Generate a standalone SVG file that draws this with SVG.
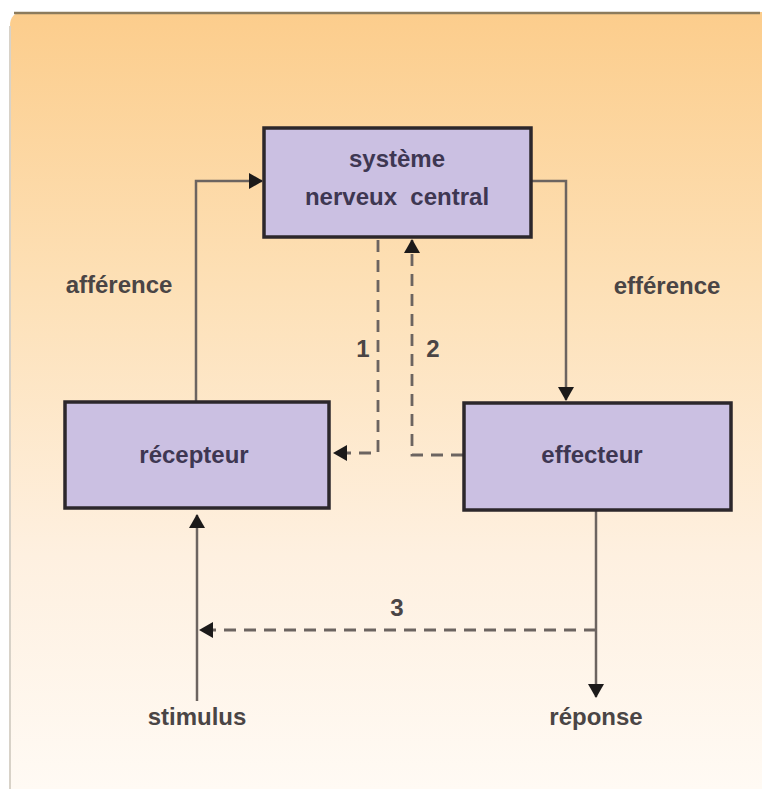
<svg xmlns="http://www.w3.org/2000/svg" width="765" height="789" viewBox="0 0 765 789">
<defs>
<linearGradient id="bg" x1="0" y1="0" x2="0" y2="1">
<stop offset="0" stop-color="#fccd8c"/>
<stop offset="0.35" stop-color="#fde0b6"/>
<stop offset="0.7" stop-color="#fef0e0"/>
<stop offset="1" stop-color="#fffaf4"/>
</linearGradient>
<marker id="ah" viewBox="0 0 14 16" refX="13" refY="8" markerWidth="14" markerHeight="16" markerUnits="userSpaceOnUse" orient="auto">
<path d="M0,0 L14,8 L0,16 z" fill="#1c1a1a"/>
</marker>
<style>
.box{fill:#cbc0e2;stroke:#2c272b;stroke-width:3.5}
.bt{font-family:"Liberation Sans",Arial,sans-serif;font-size:24px;font-weight:bold;fill:#3e3752;text-anchor:middle}
.lb{font-family:"Liberation Sans",Arial,sans-serif;font-size:24px;font-weight:bold;fill:#4a4545;text-anchor:middle}
.ln{fill:none;stroke:#6c6460;stroke-width:2.5}
.dl{fill:none;stroke:#6c6460;stroke-width:2.8;stroke-dasharray:12 8}
</style>
</defs>
<rect width="765" height="789" fill="#ffffff"/>
<path d="M10,789 L10,26 Q10,12 24,12 L762,12 L762,789 z" fill="url(#bg)"/>
<path d="M10,789 L10,26" stroke="#d8d2c8" stroke-width="2" fill="none"/>
<path d="M14,13 L760,13" stroke="#8c7b5c" stroke-width="2.5" fill="none"/>
<g id="connectors">
<path class="ln" d="M196,401 L196,181 L262,181" marker-end="url(#ah)"/>
<path class="ln" d="M531,181 L566,181 L566,400" marker-end="url(#ah)"/>
<path class="dl" d="M378,240 L378,453 L334,453" marker-end="url(#ah)"/>
<path class="dl" d="M463,455 L412,455 L412,240" marker-end="url(#ah)"/>
<path class="ln" d="M197,701 L197,515" marker-end="url(#ah)"/>
<path class="ln" d="M596,510 L596,697" marker-end="url(#ah)"/>
<path class="dl" d="M596,630 L200,630" marker-end="url(#ah)"/>
</g>
<g id="snc">
<rect class="box" x="264" y="128" width="267" height="109"/>
<text class="bt" x="397" y="167">système</text>
<text class="bt" x="397" y="205" xml:space="preserve">nerveux  central</text>
</g>
<g id="recepteur">
<rect class="box" x="65" y="402" width="264" height="106"/>
<text class="bt" x="194" y="463">récepteur</text>
</g>
<g id="effecteur">
<rect class="box" x="464" y="403" width="267" height="107"/>
<text class="bt" x="592" y="463">effecteur</text>
</g>
<g id="labels">
<text class="lb" x="119" y="293">afférence</text>
<text class="lb" x="667" y="294">efférence</text>
<text class="lb" x="363" y="357">1</text>
<text class="lb" x="433" y="357">2</text>
<text class="lb" x="397" y="616">3</text>
<text class="lb" x="197" y="725">stimulus</text>
<text class="lb" x="596" y="725">réponse</text>
</g>
</svg>
